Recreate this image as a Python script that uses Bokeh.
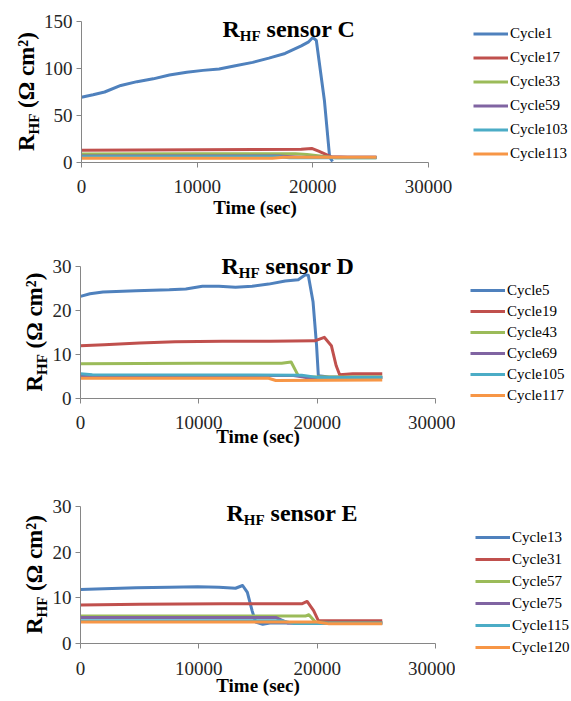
import math
from bokeh.plotting import figure
from bokeh.models import Range1d, FixedTicker, Label, Legend, LegendItem
from bokeh.layouts import column, row
from bokeh.embed import file_html
from bokeh.resources import INLINE

SERIF = "Liberation Serif"
COLORS = ["#4F81BD", "#C0504D", "#9BBB59", "#8064A2", "#4BACC6", "#F79646"]

# ---------------- data: sensor C ----------------
c_names = ["Cycle1", "Cycle17", "Cycle33", "Cycle59", "Cycle103", "Cycle113"]
c1_t = [0, 1000, 2000, 3400, 4800, 6200, 7600, 9100, 10500, 11900, 13300, 14800, 16200, 17600, 19000, 19600, 20000, 20300, 21000, 21450, 21700]
c1_y = [69.5, 72, 75, 82, 86, 89, 93, 96, 98, 99.5, 103, 106.5, 111, 116, 124, 128, 133, 130, 66, 6, 1]
c17_t = [0, 5000, 10000, 15000, 19000, 19900, 20500, 21600, 23000, 25500]
c17_y = [13, 13.3, 13.5, 13.7, 14, 15, 12, 6, 5.5, 5.5]
c33_t = [0, 10000, 18500, 19500, 21000, 22000, 25500]
c33_y = [9, 9.2, 9.2, 8.5, 6.5, 5, 5]
c59_t = [0, 17000, 19000, 25500]
c59_y = [7, 7, 5.5, 5.5]
c103_t = [0, 17000, 18000, 25500]
c103_y = [6, 6, 5, 5]
c113_t = [0, 16500, 17500, 25500]
c113_y = [4.5, 4.5, 5.5, 5.5]

# ---------------- data: sensor D ----------------
d_names = ["Cycle5", "Cycle19", "Cycle43", "Cycle69", "Cycle105", "Cycle117"]
d5_t = [0, 800, 1900, 4700, 7500, 8900, 10300, 11700, 13100, 14500, 15900, 17300, 18400, 19000, 19250, 19650, 19950, 20100, 21000, 25500]
d5_y = [23.2, 23.8, 24.2, 24.5, 24.7, 24.9, 25.5, 25.5, 25.3, 25.5, 26, 26.7, 27, 28.1, 28, 22, 12, 5.2, 4.9, 4.9]
d19_t = [0, 2000, 5000, 8000, 12000, 16000, 19800, 20600, 21200, 21600, 21900, 23000, 25500]
d19_y = [12, 12.2, 12.6, 12.9, 13, 13, 13.1, 13.9, 12, 7.5, 5.4, 5.6, 5.6]
d43_t = [0, 10000, 17000, 17800, 18400, 19000, 25500]
d43_y = [7.9, 8, 8, 8.3, 5.2, 4.9, 4.9]
d69_t = [0, 18000, 19000, 25500]
d69_y = [5.2, 5.2, 4.8, 4.8]
d105_t = [0, 1000, 18700, 20000, 25500]
d105_y = [5.6, 5.4, 5.3, 4.8, 4.8]
d117_t = [0, 15900, 16500, 25500]
d117_y = [4.6, 4.6, 4.1, 4.2]

# ---------------- data: sensor E ----------------
e_names = ["Cycle13", "Cycle31", "Cycle57", "Cycle75", "Cycle115", "Cycle120"]
e13_t = [0, 2000, 4700, 7500, 9900, 11700, 13100, 13700, 14100, 14500, 14800, 15400, 16000, 25500]
e13_y = [11.8, 12, 12.2, 12.3, 12.45, 12.3, 12.1, 12.7, 11.2, 7.2, 4.7, 4.2, 4.5, 4.5]
e31_t = [0, 5000, 12000, 18700, 19150, 19700, 20100, 21000, 25500]
e31_y = [8.45, 8.6, 8.7, 8.7, 9.2, 7.2, 5, 5, 5]
e57_t = [0, 10000, 19000, 19300, 19850, 21000, 25500]
e57_y = [6, 6, 6, 6.3, 4.7, 4.6, 4.6]
e75_t = [0, 16500, 17500, 25500]
e75_y = [5.7, 5.7, 4.5, 4.5]
e115_t = [0, 17000, 18000, 25500]
e115_y = [5.0, 5.0, 4.4, 4.4]
e120_t = [0, 20000, 21000, 25500]
e120_y = [4.7, 4.7, 4.3, 4.3]

x_ticks = [0, 10000, 20000, 30000]
x_max = 30000
c_yticks = [0, 50, 100, 150]
c_ymax = 150
de_yticks = [0, 10, 20, 30]
de_ymax = 30

W_TOTAL = 571
H_TOTAL = 701
MAIN_RIGHT = 455          # right edge of the chart column; legends live to its right
FRAME_LEFT = 77

common = dict(text_font=SERIF, text_font_style="bold", text_color="black",
              text_baseline="alphabetic", text_align="left")


def make_panel(sensor, series, ymax, yticks, height, top_px, axis_px,
               labw, fw, title_xy, ylab_x, tick_so, lab_so):
    bbot = height - top_px - axis_px
    y_ext = ymax + top_px * ymax / axis_px
    p = figure(width=MAIN_RIGHT - labw, height=height, output_backend="svg",
               toolbar_location=None,
               x_range=Range1d(0, x_max), y_range=Range1d(0, y_ext),
               min_border_left=FRAME_LEFT - labw,
               min_border_right=MAIN_RIGHT - FRAME_LEFT - fw,
               min_border_top=0, min_border_bottom=bbot)
    p.outline_line_color = None
    p.xgrid.visible = False
    p.ygrid.visible = False

    for ax in (p.xaxis[0], p.yaxis[0]):
        ax.axis_line_color = "#868686"
        ax.major_tick_line_color = "#868686"
        ax.minor_tick_line_color = None
        ax.major_tick_out = 5
        ax.major_tick_in = 0
        ax.major_label_text_font = SERIF
        ax.major_label_text_font_size = "19px"
        ax.major_label_text_color = "#262626"
    p.yaxis.bounds = (0, ymax)
    p.xaxis.ticker = FixedTicker(ticks=x_ticks)
    p.yaxis.ticker = FixedTicker(ticks=yticks)
    p.xaxis.major_label_standoff = tick_so
    p.yaxis.major_label_standoff = 4
    p.xaxis.axis_label = "Time (sec)"
    p.xaxis.axis_label_text_font = SERIF
    p.xaxis.axis_label_text_font_size = "19px"
    p.xaxis.axis_label_text_font_style = "bold"
    p.xaxis.axis_label_text_color = "black"
    p.xaxis.axis_label_standoff = lab_so

    for (t, y), col in zip(series, COLORS):
        p.line(t, y, line_color=col, line_width=3, line_join="round")

    # title "R_HF sensor X"
    tx, ty = title_xy
    scr = dict(x_units="screen", y_units="screen")
    p.add_layout(Label(x=tx, y=ty, text="R", text_font_size="24px", **scr, **common))
    p.add_layout(Label(x=tx + 17.3, y=ty - 7.5, text="HF", text_font_size="15px",
                       **scr, **common))
    p.add_layout(Label(x=tx + 17.3 + 20.8 + 6, y=ty, text="sensor " + sensor,
                       text_font_size="24px", **scr, **common))

    # narrow figure holding the rotated y axis label "R_HF (Ω cm²)"
    lf = figure(width=labw, height=height, output_backend="svg",
                toolbar_location=None, x_range=Range1d(0, labw),
                y_range=Range1d(bbot, height), x_axis_location=None,
                y_axis_location=None, min_border_left=0, min_border_right=0,
                min_border_top=0, min_border_bottom=bbot)
    lf.outline_line_color = None
    lf.xgrid.visible = False
    lf.ygrid.visible = False
    L = 16.6 + 20.8 + 5.7 + 75.0
    center = height - (top_px + axis_px / 2)
    s = center - L / 2
    lf.add_layout(Label(x=ylab_x, y=s, text="R", angle=math.pi / 2,
                        text_font_size="23px", **common))
    lf.add_layout(Label(x=ylab_x + 7, y=s + 16.6, text="HF", angle=math.pi / 2,
                        text_font_size="15px", **common))
    lf.add_layout(Label(x=ylab_x, y=s + 16.6 + 20.8 + 5.7, text="(\u03a9 cm\u00b2)",
                        angle=math.pi / 2, text_font_size="23px", **common))
    return row(lf, p, spacing=0)


panel_c = [(c1_t, c1_y), (c17_t, c17_y), (c33_t, c33_y), (c59_t, c59_y),
           (c103_t, c103_y), (c113_t, c113_y)]
panel_d = [(d5_t, d5_y), (d19_t, d19_y), (d43_t, d43_y), (d69_t, d69_y),
           (d105_t, d105_y), (d117_t, d117_y)]
panel_e = [(e13_t, e13_y), (e31_t, e31_y), (e57_t, e57_y), (e75_t, e75_y),
           (e115_t, e115_y), (e120_t, e120_y)]

r1 = make_panel("C", panel_c, c_ymax, c_yticks, 228, 21, 141, 40, 351,
                (141, 134), 26, 12, 1)
r2 = make_panel("D", panel_d, de_ymax, de_yticks, 237, 38, 132, 49, 358,
                (141, 133), 34, 12, -6)
r3 = make_panel("E", panel_e, de_ymax, de_yticks, 236, 41, 137, 49, 358,
                (146, 131), 34, 13, -3)

# legend column on the right (legend swatches use the same series; the
# figure's view range is set away from the data so only the legends show)
LW = W_TOTAL - MAIN_RIGHT
lg = figure(width=LW, height=H_TOTAL, output_backend="svg", toolbar_location=None,
            x_range=Range1d(-2, -1), y_range=Range1d(-2, -1),
            x_axis_location=None, y_axis_location=None, min_border=0)
lg.outline_line_color = None
lg.xgrid.visible = False
lg.ygrid.visible = False

legend_specs = [
    (panel_c, c_names, (473 - MAIN_RIGHT, H_TOTAL - 163.5), 21, 3),
    (panel_d, d_names, (470 - MAIN_RIGHT, H_TOTAL - 405), 20, 1),
    (panel_e, e_names, (475 - MAIN_RIGHT, H_TOTAL - 657), 20, 2),
]
for series, names, loc, h, sp in legend_specs:
    items = []
    for (t, y), name, col in zip(series, names, COLORS):
        r = lg.line(t, y, line_color=col, line_width=3)
        items.append(LegendItem(label=name, renderers=[r]))
    lg.add_layout(Legend(items=items, location=loc, padding=0, margin=0,
                         spacing=sp, glyph_width=35, glyph_height=h,
                         label_height=h, label_standoff=2,
                         label_text_font=SERIF, label_text_font_size="15px",
                         label_text_color="black", border_line_color=None,
                         background_fill_alpha=0), "center")

layout = row(column(r1, r2, r3, spacing=0), lg, spacing=0)
open("out.html", "w").write(file_html(layout, INLINE))
